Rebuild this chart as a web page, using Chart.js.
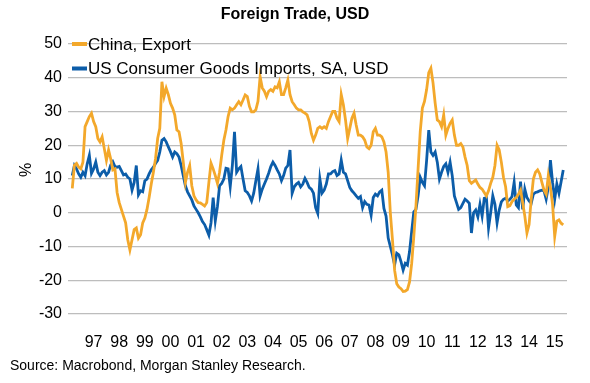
<!DOCTYPE html>
<html><head><meta charset="utf-8">
<script src="https://cdn.jsdelivr.net/npm/chart.js@4.4.1/dist/chart.umd.min.js"></script>
<style>html,body{margin:0;padding:0;background:#fff}</style>
</head><body>
<canvas id="c" width="590" height="383"></canvas>
<script>
const titleText = 'Foreign Trade, USD';
const sourceText = 'Source: Macrobond, Morgan Stanley Research.';
const yAxisLabel = '%';
const seriesNames = ['China, Export', 'US Consumer Goods Imports, SA, USD'];
const seriesColors = ['#F3A82B', '#0C5DA9'];
const startYear = 1996, startMonth = 3; // monthly series start: Mar 1996
const yearTicks = [1997,1998,1999,2000,2001,2002,2003,2004,2005,2006,2007,2008,2009,2010,2011,2012,2013,2014,2015];
const yearLabels = ['97','98','99','00','01','02','03','04','05','06','07','08','09','10','11','12','13','14','15'];

const chinaExport = [
 7.2, 14.1, 14.6, 13.5, 13, 15, 25.5, 27, 28.5, 29.5,
 27, 25.5, 22, 21, 22.5, 19, 15.5, 18.6, 16, 12.7,
 13, 6, 3, 1, -1, -3, -8, -11, -8, -5,
 -4.5, -7.5, -6.5, -3, -1.6, 1, 4.5, 8.5, 12, 16,
 22, 25, 38.8, 34.4, 36.9, 35, 32.4, 31, 29, 24.5,
 24, 20.5, 15, 9, 12, 14, 8, 5, 3.8, 3,
 2.9, 2.5, 2, 3, 9, 14.7, 13, 11, 8.7, 12,
 17, 21.5, 24.5, 28.5, 31, 30.5, 31, 32, 32.9, 32,
 33.4, 34.9, 34.4, 31.5, 29.9, 29.9, 30.5, 33, 40.3, 37,
 36, 34.4, 36, 36.5, 36, 37.3, 37, 38.8, 35, 35,
 37, 39.3, 35, 32.9, 32, 31, 30.5, 30.5, 29.9, 29.5,
 29, 27, 23.5, 21.5, 23, 25, 25.5, 25, 25.5, 25,
 27, 28.5, 30, 30, 28, 27, 35, 32, 27.5, 22,
 25, 28, 29.5, 26, 23, 23, 22.5, 21.5, 19.5, 19,
 20, 24, 25, 23, 23, 22.5, 21, 18, 12, 0,
 -8, -17, -21, -22, -22.5, -23.3, -23.2, -22.8, -20.5, -15,
 -7, 2, 13, 24, 31, 33, 36.5, 41.5, 42.8, 38.5,
 32.5, 27.5, 27, 25.5, 29, 23, 25, 26.5, 27.5, 23,
 20, 20, 20.5, 19.5, 16.5, 14, 9.5, 8.7, 9.2, 9.7,
 8.5, 7.5, 7, 6, 5, 6.5, 8.7, 10.5, 14, 20,
 18.6, 15, 10.5, 7.7, 1.8, 2.1, 3.3, 4, 4.5, 5.5,
 6.7, 3, -1, -6, -3.5, 4, 10, 12, 12.7, 11.5,
 9, 6.7, 5.5, 11, 7.5, 2.5, -7, -2.5, -2.1, -3.1,
 -3.6
];
const usImports = [
 11, 14, 13, 11.5, 10.5, 12, 11, 14.5, 17, 11.7,
 13, 15, 12, 11, 12, 12.5, 11.2, 12, 14.1, 15.1,
 13.7, 13.5, 13.7, 12.5, 11.2, 11.5, 10.5, 10, 6.7, 9,
 14, 5.3, 6.5, 6.2, 9.5, 10, 11.5, 12.7, 13.5, 14.6,
 15.5, 18, 21.5, 22, 21, 19.5, 18.1, 16.5, 18, 17.5,
 16.5, 14, 11, 8, 6.2, 5, 3.8, 2, 1, 0,
 -1.2, -2.6, -3.5, -5, -6.6, -3, 4.5, -2.4, 1.8, 8,
 8.7, 10, 13.2, 13, 7.7, 14, 24, 12, 13, 13.7,
 10, 6.5, 6, 5, 3.5, 5.8, 9.5, 13, 5, 7,
 8.5, 10, 11.7, 13.7, 15, 14, 12.7, 11.5, 9.5, 11,
 13.2, 14, 18.6, 5.8, 7.7, 8.5, 9, 7.7, 8.5, 10.2,
 9, 7.5, 7, 5.8, 1.5, -0.2, 10, 5.8, 6.7, 8.5,
 11.5, 11.5, 12.2, 12.5, 11, 11.5, 15.6, 12, 11.5, 9.5,
 7.5, 6.5, 5.8, 5, 4.3, 4.8, 1.5, 3.3, 2.5, 2.3,
 -0.7, 4.5, 5.5, 5, 6.2, 6.7, 1.3, -1, -7.5, -10,
 -12.5, -15.5, -12, -12.5, -14.5, -17, -15, -15.5, -11.5, -5.5,
 0.3, 1, 5, 10.5, 9, 8, 15.5, 24.5, 18, 17,
 18, 15, 10, 12, 13.7, 14.5, 12, 15, 11, 5,
 3, 1, 1.5, 2.8, 4, 3.5, 2.8, -6, 0, 0.8,
 -1.2, 2.5, -1, 4.3, 4.5, -4.5, 0, 5, 2.5, -3,
 0.8, 3.2, 4, 4.3, 3.5, 4, 4.8, 9, 2.3, 1.5,
 9.2, 1, 7, 4.5, 3.5, 2.8, 5.5, 6, 6.2, 6.5,
 6.7, 6.5, 4, 7.5, 15.6, 9, 4, 8.5, 5.8, 9.2,
 12.7
];

const FF = '"Liberation Sans", Arial, Helvetica, sans-serif';
const toPoints = arr => arr.map((v, i) => ({ x: startYear + (startMonth - 1 + i) / 12, y: v }));

const overlay = {
  id: 'overlay',
  afterDraw(chart) {
    const ctx = chart.ctx, ca = chart.chartArea;
    ctx.save();
    ctx.fillStyle = '#000';
    ctx.textBaseline = 'middle';
    ctx.font = 'bold 16px ' + FF;
    ctx.textAlign = 'center';
    ctx.fillText(titleText, chart.width / 2, 15);
    ctx.font = '17px ' + FF;
    ctx.textAlign = 'left';
    seriesNames.forEach((name, i) => {
      const y = ca.top + i * 24.5;
      ctx.fillStyle = seriesColors[i];
      ctx.fillRect(ca.left + 4, y - 2, 15, 4);
      ctx.fillStyle = '#000';
      ctx.fillText(name, ca.left + 20, y + 1);
    });
    ctx.font = '14px ' + FF;
    ctx.fillText(sourceText, 10, 366);
    ctx.translate(27, 170);
    ctx.rotate(-Math.PI / 2);
    ctx.textAlign = 'center';
    ctx.font = '16px ' + FF;
    ctx.fillText(yAxisLabel, 0, 0);
    ctx.restore();
  }
};

new Chart(document.getElementById('c'), {
  type: 'line',
  data: {
    datasets: [
      { label: seriesNames[0], data: toPoints(chinaExport), borderColor: seriesColors[0], borderWidth: 2.8, pointRadius: 0, tension: 0, fill: false },
      { label: seriesNames[1], data: toPoints(usImports), borderColor: seriesColors[1], borderWidth: 2.8, pointRadius: 0, tension: 0, fill: false }
    ]
  },
  options: {
    responsive: false,
    animation: false,
    devicePixelRatio: 1,
    layout: { padding: { top: 44, right: 23, bottom: 0, left: 0 } },
    plugins: { legend: { display: false }, tooltip: { enabled: false }, title: { display: false } },
    scales: {
      x: {
        type: 'linear', min: 1996, max: 2015.48,
        grid: { display: false }, border: { display: false },
        afterBuildTicks: s => { s.ticks = yearTicks.map(v => ({ value: v })); },
        afterFit: s => { s.height = 69; },
        ticks: {
          autoSkip: false, maxRotation: 0, padding: 11, color: '#000',
          font: { size: 16, family: FF },
          callback: v => { const k = yearTicks.indexOf(v); return k >= 0 ? yearLabels[k] : ''; }
        }
      },
      y: {
        min: -30, max: 50,
        grid: { color: '#BDBDBD', lineWidth: 1.3, drawTicks: false },
        border: { display: false },
        afterFit: s => { s.width = 68; },
        ticks: { stepSize: 10, padding: 6, color: '#000', font: { size: 16, family: FF } }
      }
    }
  },
  plugins: [overlay]
});
</script>
</body></html>
